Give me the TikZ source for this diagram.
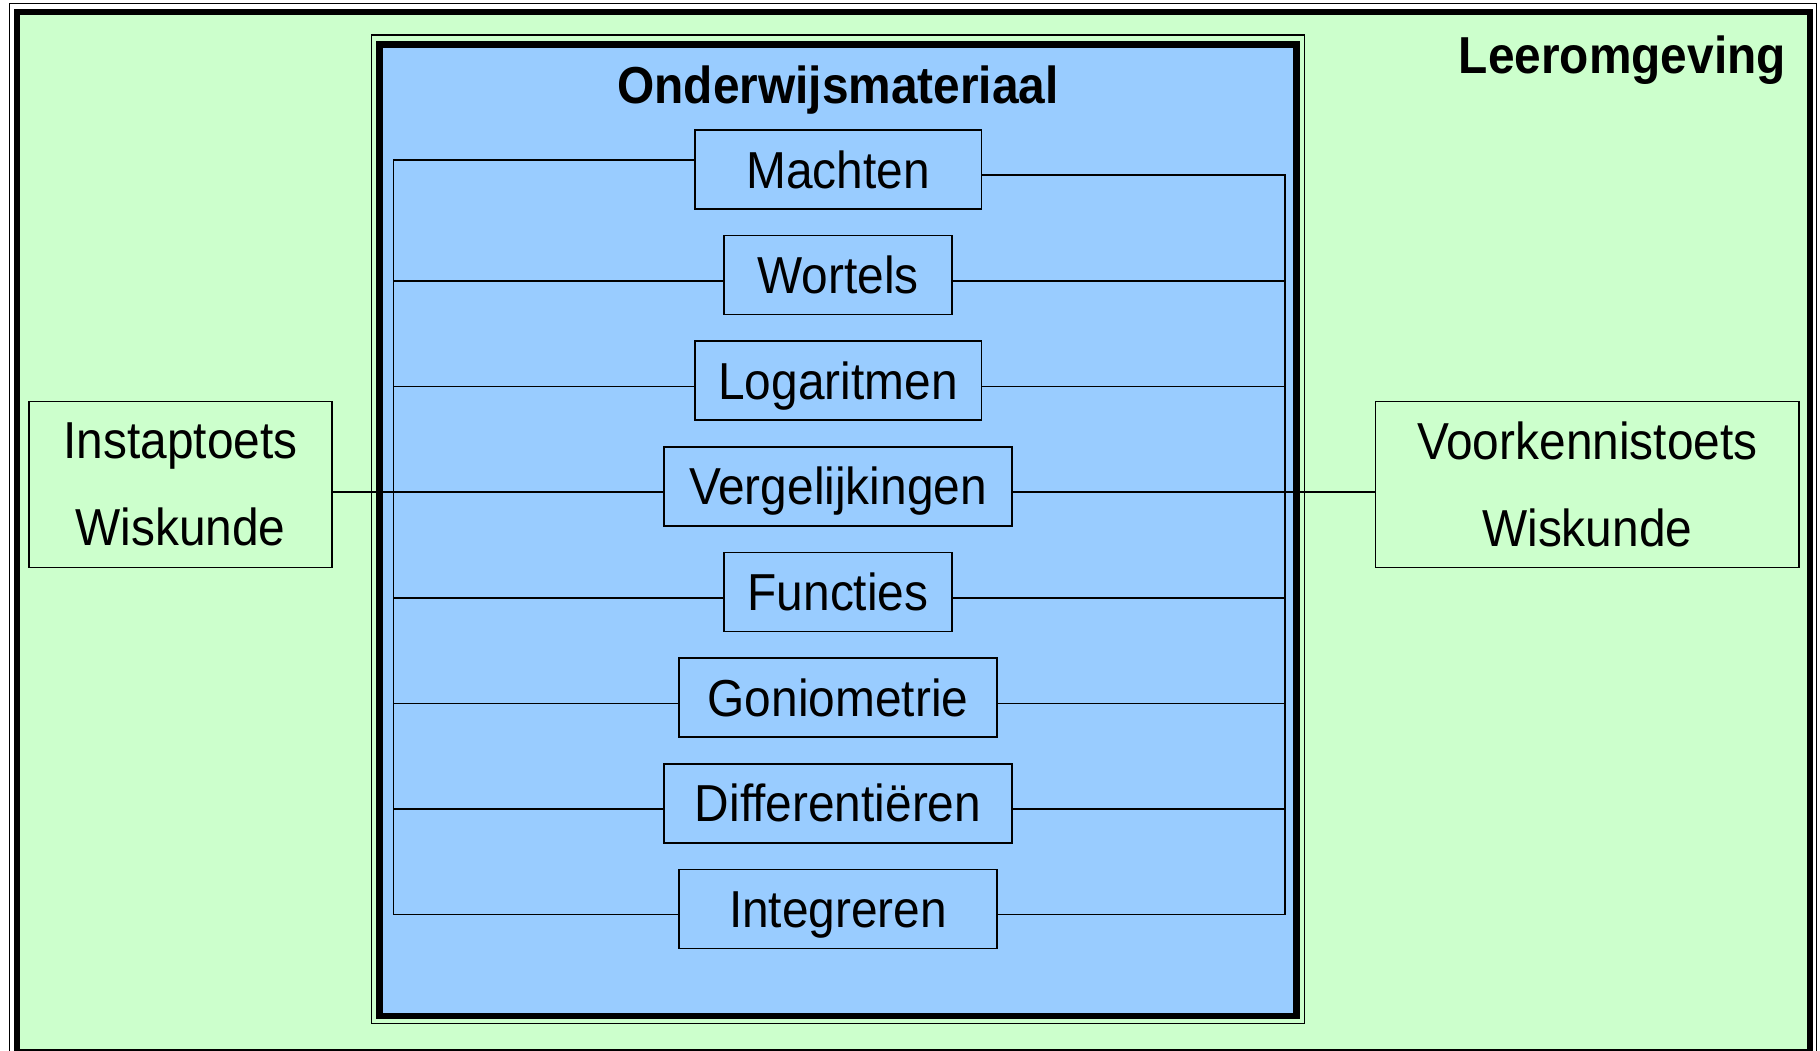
\documentclass[tikz,border=0pt]{standalone}
\usepackage{fontspec}
\setmainfont{Liberation Sans}[FakeStretch=0.92]
\usepackage{tikz}
\usetikzlibrary{positioning, calc}
\definecolor{leergroen}{HTML}{CCFFCC}
\definecolor{materiaalblauw}{HTML}{99CCFF}
\tikzset{
	every node/.style={font=\fontsize{22.4}{37.5}\selectfont},
	topic/.style={draw, line width=0.7pt, fill=materiaalblauw, minimum height=34pt, inner sep=0pt, text height=16pt, text depth=0pt},
	toets/.style={draw, line width=0.7pt, fill=leergroen, minimum height=71.5pt, inner sep=0pt, align=center},
	titel/.style={font=\fontsize{22.4}{26}\selectfont\bfseries, inner sep=0pt},
	verbinding/.style={line width=0.7pt},
}

\begin{document}
\begin{tikzpicture}[x=0.5pt, y=-0.5pt]
			\useasboundingbox (0,0) rectangle (1568,905);
			\clip (0,0) rectangle (1568,905);
			\fill[white] (0,0) rectangle (1568,905);
			\draw[line width=0.6pt] (8,3) rectangle (1565,912);
			\draw[line width=2.5pt, fill=leergroen] (14.5,10.5) rectangle (1559.5,906);
			
			\node[draw, line width=0.6pt, minimum width=402pt, minimum height=426pt] (kader) at (722,456) {};
			\node[draw, line width=2.75pt, fill=materiaalblauw, minimum width=395pt, minimum height=418.5pt] (materiaal) at (722,457) {};
			
			\node[titel, anchor=base] (titel) at (722,89) {Onderwijsmateriaal};
			\node[titel, anchor=base east] (omgeving) at (1539,63) {Leeromgeving};
			
			\node[topic, minimum width=123.5pt] (Machten) at (722,146) {Machten};
			\node[topic, minimum width=98pt, below=10.8pt of Machten] (Wortels) {Wortels};
			\node[topic, minimum width=123.5pt, below=10.8pt of Wortels] (Logaritmen) {Logaritmen};
			\node[topic, minimum width=150pt, below=10.8pt of Logaritmen] (Vergelijkingen) {Vergelijkingen};
			\node[topic, minimum width=98pt, below=10.8pt of Vergelijkingen] (Functies) {Functies};
			\node[topic, minimum width=137pt, below=10.8pt of Functies] (Goniometrie) {Goniometrie};
			\node[topic, minimum width=150pt, below=10.8pt of Goniometrie] (Differentieren) {Differenti\"eren};
			\node[topic, minimum width=137pt, below=10.8pt of Differentieren] (Integreren) {Integreren};
			
			\node[toets, minimum width=130.5pt] (Instaptoets) at (155.5,417.5) {Instaptoets\\Wiskunde};
			\node[toets, minimum width=182.5pt] (Voorkennistoets) at (1367.5,417.5) {Voorkennistoets\\Wiskunde};
			
			\coordinate (lbus) at (339,0);
			\coordinate (rbus) at (1107,0);
			\coordinate (LMachten) at ([yshift=4pt]Machten.west);
			\coordinate (RMachten) at ([yshift=-2.5pt]Machten.east);
			\foreach \t in {Wortels, Logaritmen, Vergelijkingen, Functies, Goniometrie, Differentieren, Integreren} {
				\coordinate (L\t) at ([yshift=-2.5pt]\t.west);
				\coordinate (R\t) at ([yshift=-2.5pt]\t.east);
			}
			
			\draw[verbinding] (LMachten) -- (LMachten -| lbus) -- (LIntegreren -| lbus) -- (LIntegreren);
			\draw[verbinding] (RMachten) -- (RMachten -| rbus) -- (RIntegreren -| rbus) -- (RIntegreren);
			\foreach \t in {Wortels, Logaritmen, Functies, Goniometrie, Differentieren} {
				\draw[verbinding] (L\t) -- (L\t -| lbus);
				\draw[verbinding] (R\t) -- (R\t -| rbus);
			}
			\draw[verbinding] (LVergelijkingen) -- (LVergelijkingen -| Instaptoets.east);
			\draw[verbinding] (RVergelijkingen) -- (RVergelijkingen -| Voorkennistoets.west);
			
		\end{tikzpicture}
\end{document}
